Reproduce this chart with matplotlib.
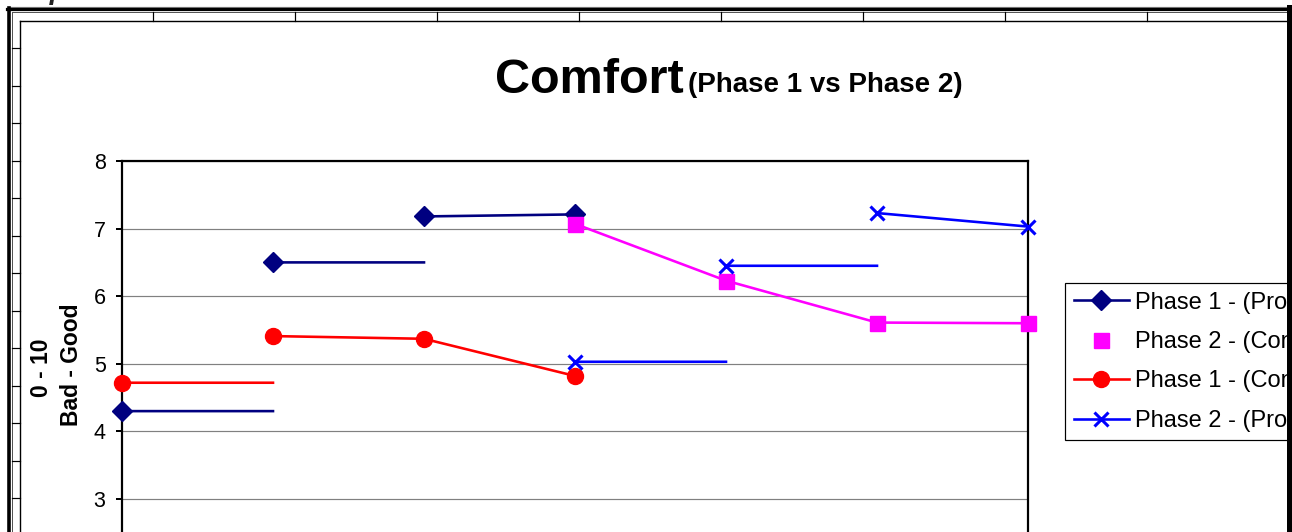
import numpy as np
import matplotlib
matplotlib.use("Agg")
import matplotlib.pyplot as plt

plt.rcParams['font.family'] = ['Liberation Sans', 'DejaVu Sans']

# ---------------- data ----------------
category_positions = [0, 1, 2, 3, 4, 5, 6]
y_ticks = [3, 4, 5, 6, 7, 8]

p1_pro_x = [0, 1, 2, 3]
p1_pro_y = [4.30, 6.50, 7.18, 7.21]
p1_pro_flat = [True, True, False]      # segment after a point held flat to the next category

p2_con_x = [3, 4, 5, 6]
p2_con_y = [7.07, 6.23, 5.61, 5.60]
p2_con_flat = [False, False, False]

p1_con_x = [0, 1, 2, 3]
p1_con_y = [4.72, 5.41, 5.37, 4.82]
p1_con_flat = [True, False, False]

p2_pro_x = [3, 4, 5, 6]
p2_pro_y = [5.03, 6.45, 7.23, 7.03]
p2_pro_flat = [True, True, False]

legend_labels = ["Phase 1 - (Pro", "Phase 2 - (Con", "Phase 1 - (Con", "Phase 2 - (Pro"]
title_main = "Comfort"
title_sub = "(Phase 1 vs Phase 2)"
ylabel_1 = "0 - 10"
ylabel_2 = "Bad - Good"
sheet_caption = "Graph 4 - Comfort Scores"

# ---------------- figure ----------------
W, H = 1292, 532
fig = plt.figure(figsize=(W / 100, H / 100), dpi=100)
fig.patch.set_facecolor('white')

def fx(x):
    return x / W

def fy(y):
    return 1 - y / H

PX = 0.72  # points per pixel

# main plot axes (plot area: x 122..1028, y=8 at 161, 67.6 px per unit)
y_top, unit = 161, 67.6
ymin, ymax = 2, 8
y_bot = y_top + (ymax - ymin) * unit
ax = fig.add_axes([fx(122), fy(y_bot), (1028 - 122) / W, (y_bot - y_top) / H], zorder=5)
ax.set_xlim(category_positions[0], category_positions[-1])
ax.set_ylim(ymin, ymax)
ax.set_xticks([])
ax.set_yticks(y_ticks)
ax.tick_params(axis='y', direction='out', length=6 * PX, width=2 * PX, pad=7.5,
               labelsize=15.5, colors='black')
ax.yaxis.grid(True, color='#808080', linewidth=1.2 * PX)
ax.set_axisbelow(True)
for s in ['top', 'left', 'right']:
    ax.spines[s].set_linewidth(2.2 * PX)
    ax.spines[s].set_color('black')
ax.spines['bottom'].set_visible(False)


def build_path(xs, ys, flat):
    px, py, marks = [xs[0]], [ys[0]], [0]
    for i in range(len(xs) - 1):
        if flat[i]:
            px += [xs[i + 1], np.nan, xs[i + 1]]
            py += [ys[i], np.nan, ys[i + 1]]
        else:
            px.append(xs[i + 1])
            py.append(ys[i + 1])
        marks.append(len(px) - 1)
    return px, py, marks


lw = 2.6 * PX
# Phase 1 (Pro) - navy diamonds
x, y, m = build_path(p1_pro_x, p1_pro_y, p1_pro_flat)
h1, = ax.plot(x, y, color='#000080', lw=lw, marker='D', ms=9.8, mew=1,
              markevery=m, zorder=3, clip_on=False)
# Phase 2 (Con) - magenta squares
x, y, m = build_path(p2_con_x, p2_con_y, p2_con_flat)
ax.plot(x, y, color='#FF00FF', lw=lw, zorder=4, clip_on=False)
h2, = ax.plot(p2_con_x, p2_con_y, linestyle='none', color='#FF00FF', marker='s',
              ms=10.8, mew=1, zorder=4, clip_on=False)
# Phase 1 (Con) - red circles
x, y, m = build_path(p1_con_x, p1_con_y, p1_con_flat)
h3, = ax.plot(x, y, color='#FF0000', lw=lw, marker='o', ms=11.5, mew=1,
              markevery=m, zorder=5, clip_on=False)
# Phase 2 (Pro) - blue crosses
x, y, m = build_path(p2_pro_x, p2_pro_y, p2_pro_flat)
h4, = ax.plot(x, y, color='#0000FF', lw=lw, marker='x', ms=10.5, mew=2.2,
              markevery=m, zorder=6, clip_on=False)

leg = ax.legend([h1, h2, h3, h4], legend_labels, loc='upper left',
                bbox_to_anchor=(fx(1065), fy(283), (1310 - 1065) / W, 0),
                bbox_transform=fig.transFigure, mode='expand', borderaxespad=0,
                fontsize=17, frameon=True, fancybox=False, edgecolor='black',
                framealpha=1, borderpad=0.36, labelspacing=0.74,
                handlelength=2.35, handletextpad=0.25)
leg.get_frame().set_linewidth(1.2 * PX)
leg.set_zorder(20)

# ---------------- overlay (pixel coordinates) ----------------
ov = fig.add_axes([0, 0, 1, 1], zorder=10)
ov.set_xlim(0, W)
ov.set_ylim(H, 0)
ov.axis('off')

# worksheet caption (mostly cropped by the screenshot edge)
ov.text(2, -1.0, sheet_caption, fontsize=20, fontstyle='italic', fontweight='bold',
        va='baseline', ha='left', color='#222222', zorder=1)

# worksheet frame
ov.plot([8, 1290], [6.5, 6.5], color='#808080', lw=1.2 * PX, zorder=2)
ov.plot([7, 1291], [9.3, 9.3], color='black', lw=3.2 * PX, zorder=3)
ov.plot([9, 9], [7.5, H], color='black', lw=3.6 * PX, zorder=3)
ov.plot([11.8, 1287], [11.8, 11.8], color='#555555', lw=1 * PX, zorder=2)
ov.plot([11.8, 11.8], [11.8, H], color='#555555', lw=1 * PX, zorder=2)
ov.plot([20, 1287], [20.5, 20.5], color='black', lw=1.4 * PX, zorder=2)
ov.plot([20, 20], [20.5, H], color='black', lw=1.4 * PX, zorder=2)
for cx in np.arange(152.5, 1200, 142.0):
    ov.plot([cx, cx], [11.8, 20.5], color='black', lw=1.2 * PX, zorder=2)
for ry in np.arange(48.0, H, 37.5):
    ov.plot([11.8, 20], [ry, ry], color='black', lw=1.2 * PX, zorder=2)
ov.plot([1288.5, 1288.5], [7, H], color='black', lw=5 * PX, zorder=30)

# titles
ov.text(495, 93, title_main, fontsize=35, fontweight='bold', va='baseline', ha='left')
ov.text(688, 92, title_sub, fontsize=20, fontweight='bold', va='baseline', ha='left')

# y axis labels
ov.text(41, 368, ylabel_1, rotation=90, ha='center', va='center', fontsize=16.5,
        fontweight='bold')
ov.text(72, 365, ylabel_2, rotation=90, ha='center', va='center', fontsize=16.5,
        fontweight='bold')

fig.savefig('out.png', dpi=100)
